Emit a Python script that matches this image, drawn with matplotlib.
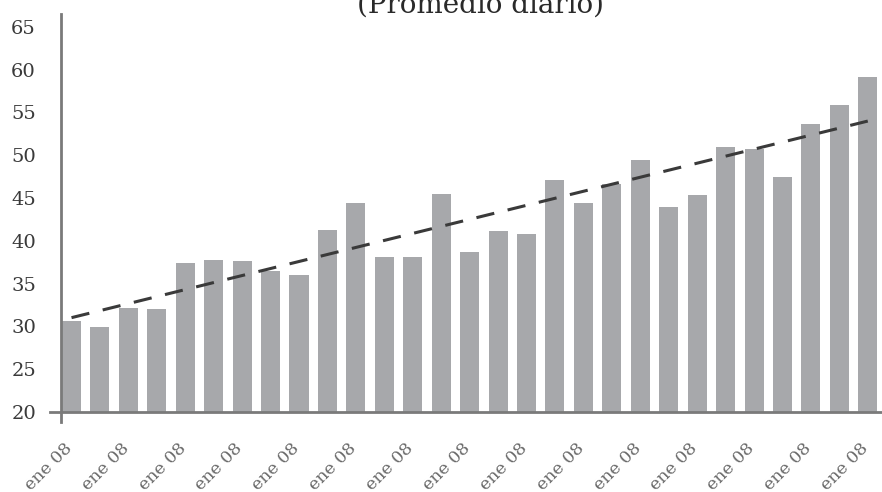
import numpy as np
import matplotlib.pyplot as plt
from matplotlib.transforms import ScaledTranslation

# daily average, one bar per period
labels = ["ene 08"] * 29
values = [30.6, 29.9, 32.2, 32.0, 37.4, 37.8, 37.6, 36.5, 36.0, 41.3,
          44.4, 38.1, 38.1, 45.5, 38.7, 41.2, 40.8, 47.1, 44.4, 46.6,
          49.4, 44.0, 45.3, 51.0, 50.7, 47.4, 53.7, 55.9, 59.1]
yticks = [20, 25, 30, 35, 40, 45, 50, 55, 60, 65]

plt.rcParams['font.family'] = ['DejaVu Serif']

x = np.arange(len(values))
fig = plt.figure(figsize=(8.82, 4.92), dpi=100)
ax = fig.add_axes([61 / 882, 1 - 412 / 492, 1 - 61 / 882, 398 / 492])

ax.bar(x, values, width=0.67, color='#a7a8ab', zorder=2)

# linear trend over the whole series
coef = np.polyfit(x, values, 1)
trend = np.polyval(coef, x)
ax.plot([x[0], x[-1]], [trend[0], trend[-1]], color='#3a3a3a', lw=2.2,
        dashes=(6, 4.5), zorder=3)

ax.set_ylim(20, 66.5)
ax.set_xlim(-0.37, 28.5)
ax.set_yticks(yticks)
ax.set_yticklabels([str(t) for t in yticks], fontsize=14, color='#3a3a3a')
ax.set_xticks(x[::2])
ax.set_xticklabels(labels[::2], rotation=45, ha='right', va='top',
                   rotation_mode='anchor', fontsize=12.5, color='#6a6a6a')
ax.tick_params(axis='y', length=0, pad=18)
ax.tick_params(axis='x', length=0, pad=20)

# nudge the rotated labels so their upper end sits under the bar
shift = ScaledTranslation(-8 / 100, 0, fig.dpi_scale_trans)
for lbl in ax.get_xticklabels():
    lbl.set_transform(lbl.get_transform() + shift)

for side in ['top', 'right']:
    ax.spines[side].set_visible(False)
ax.spines['left'].set_color('#7a7a7a')
ax.spines['left'].set_linewidth(2)
ax.spines['left'].set_bounds(18.8, 66.5)
ax.spines['bottom'].set_color('#7a7a7a')
ax.spines['bottom'].set_linewidth(2)
ax.spines['bottom'].set_bounds(-0.76, 28.5)

fig.text(480 / 882, 1 - 13 / 492, "(Promedio diario)", ha='center',
         va='baseline', fontsize=20, color='#2a2a2a')

fig.savefig('out.png', dpi=100)
